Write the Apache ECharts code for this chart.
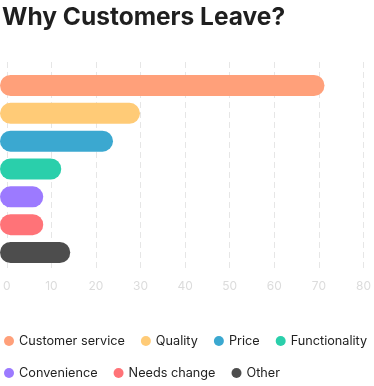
<!DOCTYPE html>
<html><head><meta charset="utf-8">
<script src="https://cdn.jsdelivr.net/npm/echarts@6/dist/echarts.min.js"></script>
<style>html,body{margin:0;padding:0;background:#fff}#c{width:374px;height:386px}</style>
</head><body><div id="c"></div>
<script>
const categories = ['Customer service','Quality','Price','Functionality','Convenience','Needs change','Other'];
const values = [71, 30, 24, 12.5, 8.5, 8.5, 14.5];
const colors = ['#FFA07A','#FFCB77','#3BA8D0','#2ACFAB','#9C7AFF','#FF7378','#4D4D4D'];
const tickLabels = ['0','10','20','30','40','50','60','70','80'];

const FONT = 'Inter';
const chart = echarts.init(document.getElementById('c'), null, {renderer:'canvas'});
const series = categories.map((name, i) => ({
  name: name,
  type: 'custom',
  xAxisIndex: 1, yAxisIndex: 1,
  itemStyle: {color: colors[i]},
  encode: {x: 0, y: 1},
  data: [[values[i], i]],
  renderItem: function (params, api) {
    const idx = api.value(1);
    const s = api.coord([0, idx]);
    const e = api.coord([api.value(0), idx]);
    const h = 21, ext = 5;
    return {type: 'rect',
      shape: {x: s[0] - ext, y: s[1] - h/2, width: e[0] - s[0] + ext, height: h, r: h/2},
      style: {fill: api.visual('color')}};
  }
}));
chart.setOption({
  animation: false,
  color: colors,
  title: {text: 'Why Customers Leave?', left: -3, top: 0,
    textStyle: {fontFamily: FONT, fontWeight: 700, fontSize: 24.5, color: '#1f1f1f'}},
  legend: {left: -1, top: 328, width: 374, itemGap: 16, icon: 'circle', itemWidth: 10, itemHeight: 10,
    textStyle: {fontFamily: FONT, fontSize: 12.7, color: '#222', lineHeight: 16},
    data: categories},
  grid: [
    {left: 5, right: 9, top: 62, height: 206},
    {left: 5, right: 9, top: 71.6, height: 194.8}
  ],
  xAxis: [
    {gridIndex: 0, type: 'value', min: 0, max: 80, interval: 10,
     axisLine: {show: false}, axisTick: {show: false},
     splitLine: {show: true, lineStyle: {color: '#e6e6e6', type: [6, 4], width: 1}},
     axisLabel: {color: '#dcdcdc', fontFamily: FONT, fontSize: 12, margin: 12,
       formatter: v => tickLabels[Math.round(v/10)]}},
    {gridIndex: 1, type: 'value', min: 0, max: 80, show: false}
  ],
  yAxis: [
    {gridIndex: 0, type: 'category', data: categories, show: false},
    {gridIndex: 1, type: 'category', data: categories, inverse: true, show: false}
  ],
  series: series
});
</script></body></html>
